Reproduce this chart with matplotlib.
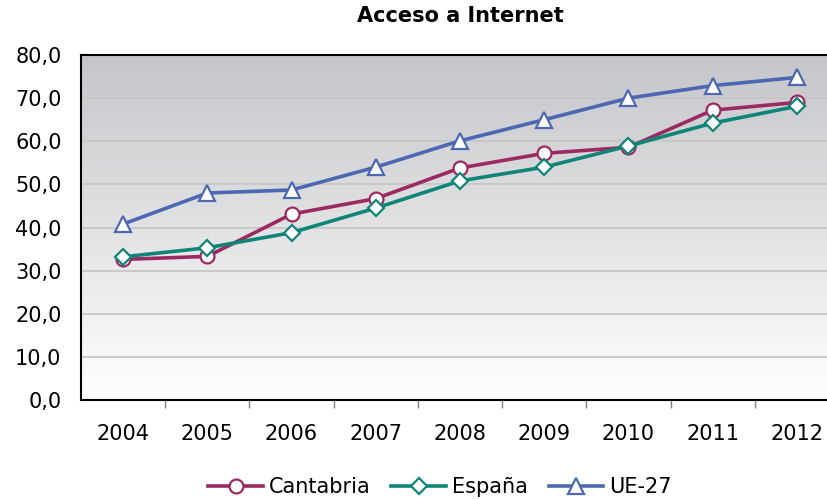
import numpy as np
import matplotlib.pyplot as plt

years = ['2004', '2005', '2006', '2007', '2008', '2009', '2010', '2011', '2012']
cantabria = [32.6, 33.3, 43.1, 46.7, 53.8, 57.2, 58.6, 67.2, 69.0]
espana = [33.2, 35.3, 38.8, 44.5, 50.8, 54.0, 58.9, 64.2, 68.1]
ue27 = [40.8, 48.0, 48.7, 54.0, 60.1, 65.0, 70.0, 72.9, 74.8]

fig = plt.figure(figsize=(8.27, 4.99), dpi=100)
# plot area runs past the right edge like the original
ax = fig.add_axes([81/827, 1 - 400/499, (839 - 81)/827, (400 - 55)/499])

# grey -> white vertical gradient background
grad = np.linspace(1, 0, 256).reshape(-1, 1)
top = np.array([0.773, 0.776, 0.792])
bot = np.array([1.0, 1.0, 1.0])
img = bot + (top - bot) * grad
img = np.repeat(img[:, None, :], 2, axis=1)
ax.imshow(img, extent=[0, 1, 0, 1], transform=ax.transAxes, aspect='auto', zorder=0)

x = np.arange(len(years))
ax.plot(x, cantabria, color='#9b2a62', lw=2.6, marker='o', ms=10, mfc='white', mec='#9b2a62', mew=1.6, label='Cantabria', zorder=3)
ax.plot(x, espana, color='#0f8578', lw=2.6, marker='D', ms=8.5, mfc='white', mec='#0f8578', mew=1.6, label='España', zorder=4)
ax.plot(x, ue27, color='#4c68b3', lw=2.6, marker='^', ms=12, mfc='white', mec='#4c68b3', mew=1.6, label='UE-27', zorder=3)

ax.set_xlim(-0.5, 8.5)
ax.set_ylim(0, 80)
ax.set_yticks(np.arange(0, 81, 10))
ax.set_yticklabels([f'{v:.1f}'.replace('.', ',') for v in np.arange(0, 81, 10)])
ax.set_xticks(x)
ax.set_xticklabels(years)
ax.set_xticks(np.arange(0.5, 8.5, 1), minor=True)
ax.tick_params(axis='x', which='major', length=0, pad=17, labelsize=15)
ax.tick_params(axis='x', which='minor', length=6, width=1, color='#808080', direction='out')
ax.tick_params(axis='y', length=0, pad=14, labelsize=15)
ax.grid(axis='y', color='#c6c6c6', lw=1.3)
ax.set_axisbelow(True)
for s in ['left', 'bottom', 'top']:
    ax.spines[s].set_linewidth(1.5)
    ax.spines[s].set_color('black')
ax.spines['right'].set_visible(False)

fig.text(460/827, 1 - 16/499, 'Acceso a Internet', ha='center', va='center', fontsize=15, fontweight='bold')

fig.legend(loc='center', bbox_to_anchor=(440/827, 1 - 487/499), ncol=3, frameon=False, fontsize=15,
           handlelength=2.6, handletextpad=0.3, columnspacing=1.0)

fig.savefig('out.png', dpi=100)
